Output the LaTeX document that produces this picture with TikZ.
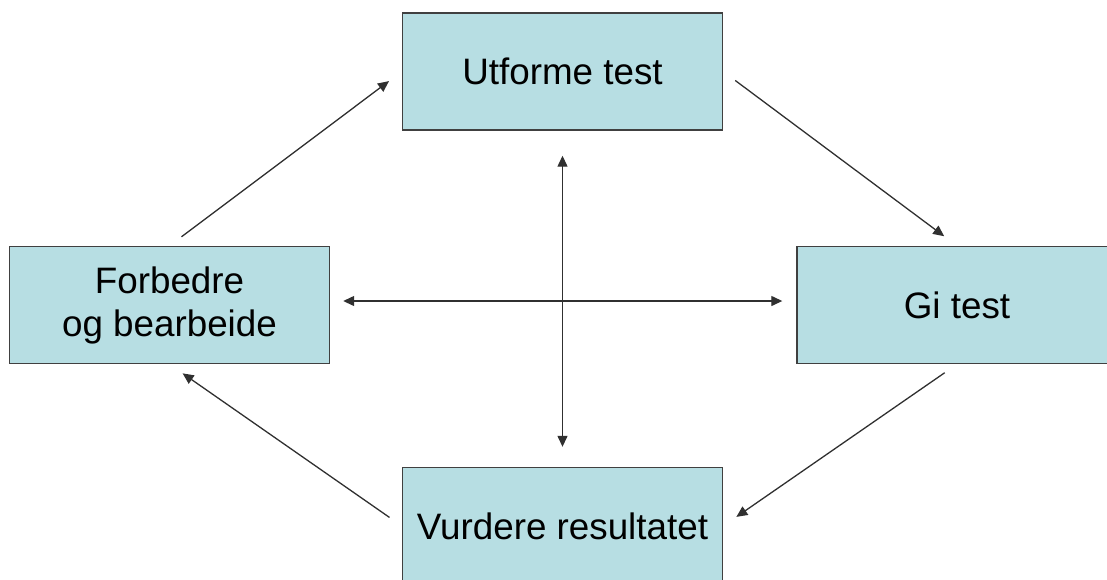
\documentclass[tikz,border=0pt]{standalone}
\usepackage{fontspec}
\setmainfont{Liberation Sans}
\usetikzlibrary{arrows.meta}
\definecolor{boxfill}{HTML}{B7DEE3}
\definecolor{boxline}{HTML}{404040}
\definecolor{pil}{HTML}{303030}
\begin{document}
\begin{tikzpicture}[x=0.5pt, y=-0.5pt]
  \clip (0, 0) rectangle (1107, 579);  % Bildausschnitt.

  \tikzstyle{box}=[rectangle, draw=boxline, line width=0.7pt, fill=boxfill, minimum width=160pt, minimum height=58.5pt, inner sep=0pt, align=center, font=\fontsize{18.4}{21.5}\selectfont]
  \tikzstyle{arrow}=[draw=pil, line width=0.65pt, -{Triangle[length=5.5pt, width=5pt]}, shorten <=7.5pt, shorten >=8pt]
  \tikzstyle{both}=[draw=pil, line width=0.65pt, {Triangle[length=5.5pt, width=5pt]}-{Triangle[length=5.5pt, width=5pt]}]

  \node[box] (utforme)  at (562.5, 71.5) {Utforme test};
  \node[box] (forbedre) at (169.5, 305)  {Forbedre\\og bearbeide};
  \node[box] (gi)       at (957, 305)    {Gi test};
  \node[box] (vurdere)  at (562.5, 526)  {Vurdere resultatet};

  \path[arrow] (forbedre.north) -- (utforme.west);
  \path[arrow] (utforme.east) -- (gi.north);
  \path[arrow] (gi.south) -- (vurdere.east);
  \path[arrow] (vurdere.west) -- (forbedre.south);

  \path[both, shorten <=12.5pt, shorten >=10pt] (utforme.south) -- (vurdere.north);
  \path[both, shorten <=6.5pt, shorten >=7pt] ([yshift=2pt]forbedre.east) -- ([yshift=2pt]gi.west);
\end{tikzpicture}
\end{document}
